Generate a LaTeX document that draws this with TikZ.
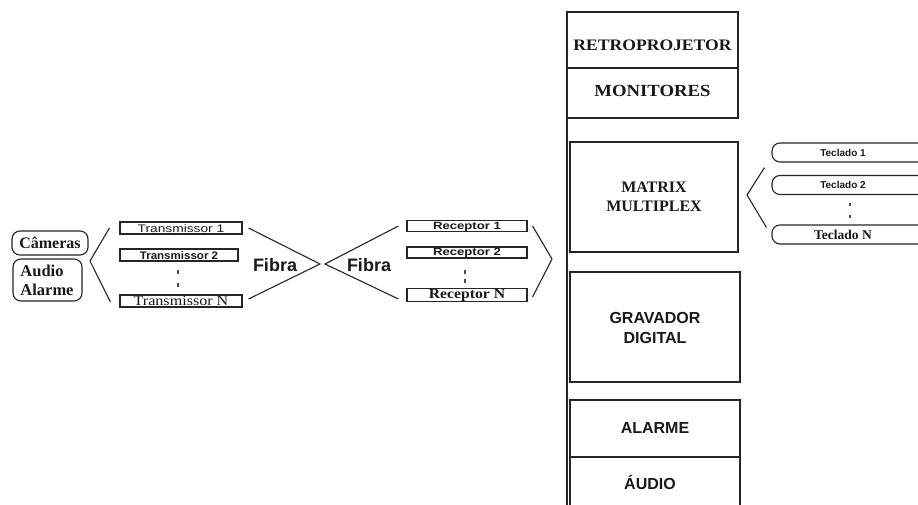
\documentclass[tikz,border=0pt]{standalone}
\usepackage{fontspec}
\setmainfont{Liberation Serif}
\newfontfamily\sanf{Liberation Sans}
\usetikzlibrary{calc}
\newcommand\fsz[1]{\fontsize{#1}{#1}\selectfont}
\newcommand\hx[2]{\scalebox{#1}[1]{#2}}
\begin{document}
\begin{tikzpicture}[x=1pt,y=-1pt,line width=1.1pt,
  box/.style={draw=black!85,rectangle,inner sep=0pt},
  txt/.style={inner sep=0pt,text=black!90,align=center},
  rbox/.style={box,rounded corners=8pt},
  lnk/.style={draw=black!85,line width=1.1pt},
  dot/.style={draw=black!70,line width=1.2pt}]
\useasboundingbox (0,0) rectangle (918,505);
\clip (0,0) rectangle (918,505);
\fill[white] (0,0) rectangle (918,505);

% sources
\node[rbox,minimum width=76,minimum height=24] (cam) at (50,243) {};
\node[txt] (camt) at (50,243) {\fsz{16}\bfseries Câmeras};
\node[rbox,minimum width=69,minimum height=42] (aud) at (47.5,280) {};
\node[txt,align=left,font=\fontsize{16.5}{19}\selectfont\bfseries] (audt) at (47,280) {Audio\\Alarme};
\coordinate (sa) at (90,261);

% transmitters
\node[box,minimum width=122,minimum height=12] (t1) at (181,228) {};
\node[txt] (t1t) at (181,228.5) {\sanf\fsz{11}\hx{1.25}{Transmissor 1}};
\node[box,minimum width=118,minimum height=12] (t2) at (179,255) {};
\node[txt] (t2t) at (179,255.5) {\sanf\bfseries\fsz{11}\hx{1.05}{Transmissor 2}};
\node[box,minimum width=122,minimum height=12] (tn) at (181,301) {};
\node[txt] (tnt) at (181,301) {\fsz{14}\hx{1.15}{Transmissor N}};
\draw[dot] (178,270) -- (178,274) (178,283) -- (178,287);

\draw[lnk] ($(t1.west)+(-10,0)$) -- (sa) -- ($(tn.west)+(-9,1)$);

% fibra
\coordinate (xa) at (320,264);
\coordinate (xb) at (325,264);
\node[txt] (f1) at (275,265) {\sanf\bfseries\fsz{18}Fibra};
\node[txt] (f2) at (369,265) {\sanf\bfseries\fsz{18}Fibra};
\draw[lnk] ($(t1.east)+(6,0)$) -- (xa) -- ($(tn.east)+(6,-2)$);

% receptors
\node[box,minimum width=120,minimum height=11] (r1) at (467,226) {};
\node[txt] (r1t) at (467,226.5) {\sanf\bfseries\fsz{10.5}\hx{1.25}{Receptor 1}};
\node[box,minimum width=120,minimum height=11] (r2) at (467,252.5) {};
\node[txt] (r2t) at (467,253) {\sanf\bfseries\fsz{10.5}\hx{1.25}{Receptor 2}};
\node[box,minimum width=120,minimum height=13] (rn) at (467,295) {};
\node[txt] (rnt) at (467,295.5) {\bfseries\fsz{14}\hx{1.12}{Receptor N}};
\draw[dot] (465,270) -- (465,274) (465,279) -- (465,283);
\draw[lnk] ($(r1.west)+(-8,0)$) -- (xb) -- ($(rn.west)+(-8,4)$);
\coordinate (ra) at (552,259);
\draw[lnk] ($(r1.east)+(5,0)$) -- (ra) -- ($(rn.east)+(5,2)$);

% central column
\draw[lnk] (567,12) -- (567,510);
\node[box,minimum width=171,minimum height=56] (retro) at (652.5,40) {};
\node[txt] (retrot) at (652.5,45) {\fsz{16}\bfseries\hx{1.1}{RETROPROJETOR}};
\node[box,minimum width=171,minimum height=50] (mon) at (652.5,93) {};
\node[txt] (mont) at (652.5,91) {\fsz{17}\bfseries\hx{1.1}{MONITORES}};
\node[box,minimum width=168,minimum height=110] (mat) at (654,197) {};
\node[txt,font=\fontsize{16}{19}\selectfont\bfseries] (matt) at (654,197) {MATRIX\\MULTIPLEX};
\node[box,minimum width=170,minimum height=110] (grav) at (655,327) {};
\node[txt,font=\sanf\fontsize{16}{20}\selectfont\bfseries] (gravt) at (655,328) {GRAVADOR\\DIGITAL};
\node[box,minimum width=170,minimum height=57] (alm) at (655,428.5) {};
\node[txt] (almt) at (655,428) {\sanf\fsz{16}\bfseries ALARME};
\node[box,minimum width=170,minimum height=60] (aud2) at (655,487) {};
\node[txt] (aud2t) at (650,482) {\sanf\fsz{16}\bfseries ÁUDIO};

% keyboards
\node[rbox,minimum width=170,minimum height=19] (k1) at (857,152.5) {};
\node[txt] (k1t) at (843,152.5) {\sanf\bfseries\fsz{10}Teclado 1};
\node[rbox,minimum width=170,minimum height=19] (k2) at (857,185) {};
\node[txt] (k2t) at (843,185) {\sanf\bfseries\fsz{10}Teclado 2};
\node[rbox,minimum width=170,minimum height=19] (kn) at (857,234.5) {};
\node[txt] (knt) at (843,234.5) {\bfseries\fsz{13.5}Teclado N};
\draw[dot] (850,203) -- (850,206) (850,215) -- (850,218);
\coordinate (ka) at (747,195);
\draw[lnk] ($(k1.south west)+(-7,5)$) -- (ka) -- ($(kn.north west)+(-5,3)$);
\end{tikzpicture}
\end{document}
